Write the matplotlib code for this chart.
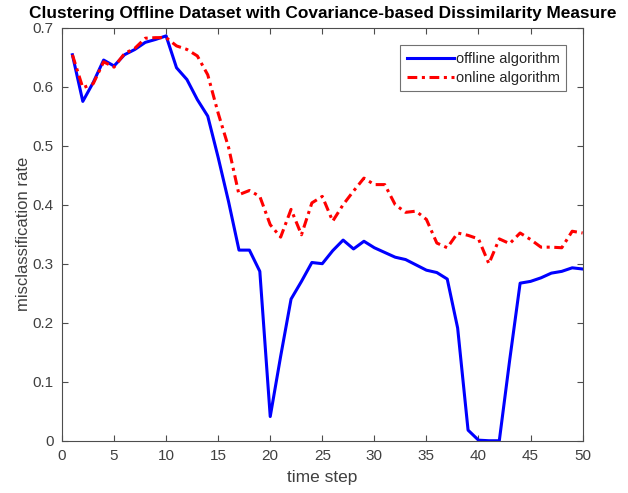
import matplotlib

matplotlib.use("Agg")

import matplotlib.pyplot as plt

plt.rcParams["font.family"] = ["Liberation Sans", "DejaVu Sans"]

time_step = list(range(1, 51))

offline_rate = [
    0.654, 0.575, 0.607, 0.645, 0.635, 0.654, 0.663, 0.675, 0.680, 0.686,
    0.632, 0.612, 0.578, 0.550, 0.480, 0.405, 0.323, 0.323, 0.287, 0.041,
    0.143, 0.240, 0.270, 0.302, 0.300, 0.322, 0.340, 0.325, 0.338, 0.327,
    0.319, 0.311, 0.307, 0.298, 0.289, 0.285, 0.274, 0.191, 0.018, 0.001,
    0.0, 0.0, 0.137, 0.267, 0.270, 0.276, 0.284, 0.287, 0.293, 0.291,
]

online_rate = [
    0.654, 0.598, 0.605, 0.642, 0.633, 0.656, 0.665, 0.682, 0.683, 0.683,
    0.669, 0.663, 0.652, 0.620, 0.555, 0.497, 0.417, 0.424, 0.414, 0.366,
    0.345, 0.392, 0.349, 0.403, 0.414, 0.372, 0.400, 0.423, 0.445, 0.434,
    0.434, 0.400, 0.387, 0.389, 0.375, 0.335, 0.327, 0.352, 0.348, 0.342,
    0.300, 0.342, 0.334, 0.352, 0.341, 0.328, 0.328, 0.327, 0.355, 0.352,
]

x_ticks = list(range(0, 51, 5))
y_ticks = [0, 0.1, 0.2, 0.3, 0.4, 0.5, 0.6, 0.7]
y_tick_labels = ["0", "0.1", "0.2", "0.3", "0.4", "0.5", "0.6", "0.7"]

fig = plt.figure(figsize=(6.28, 4.93), dpi=100)
ax = fig.add_axes([0.0987, 0.106, 0.829, 0.838])

ax.plot(time_step, offline_rate, color="#0000ff", linewidth=2.2, label="offline algorithm")
ax.plot(time_step, online_rate, color="#ff0000", linewidth=2.2, linestyle=(0, (3.2, 1.5, 1, 1.5)),
        label="online algorithm")

ax.set_xlim(0, 50)
ax.set_ylim(0, 0.7)
ax.set_xticks(x_ticks)
ax.set_yticks(y_ticks)
ax.set_yticklabels(y_tick_labels)

axis_col = "#4d4d4d"
text_col = "#404040"
for s in ax.spines.values():
    s.set_color(axis_col)
    s.set_linewidth(0.8)
ax.tick_params(direction="in", top=True, right=True, length=4, width=0.8,
               color=axis_col, labelcolor=text_col, labelsize=11)
ax.tick_params(axis="x", pad=6)
ax.tick_params(axis="y", pad=6)

ax.set_xlabel("time step", fontsize=12.5, color=text_col, labelpad=5)
ax.set_ylabel("misclassification rate", fontsize=12, color=text_col, labelpad=1)
ax.set_title("Clustering Offline Dataset with Covariance-based Dissimilarity Measure",
             fontsize=12.4, fontweight="bold", color="black", pad=7)

leg = ax.legend(loc="upper right", fontsize=10.5, frameon=True, fancybox=False,
                edgecolor=axis_col, handlelength=3.2, handletextpad=0.15,
                borderpad=0.45, labelspacing=0.35, bbox_to_anchor=(0.983, 0.975))
leg.get_frame().set_linewidth(0.8)
for t in leg.get_texts():
    t.set_color("#262626")

fig.savefig("out.png", dpi=100)
plt.close(fig)
